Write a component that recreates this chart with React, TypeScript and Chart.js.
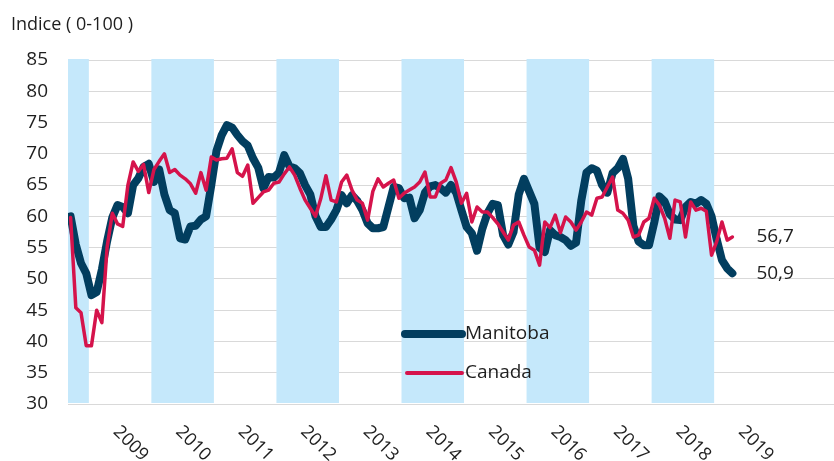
import { useEffect, useRef } from 'react';
import { Chart, registerables } from 'chart.js';

Chart.register(...registerables);

// Monthly index 0 = September 2008
const FIRST_YEAR = 2008;
const FIRST_MONTH = 9;

const manitoba = [
  60, 55.5, 52.5, 50.9, 47.4, 47.9, 51.5, 56, 59.8, 61.8, 61.5, 60.5,
  65, 66.1, 67.9, 68.4, 65.5, 67.5, 63.5, 61, 60.5, 56.5, 56.3, 58.4,
  58.5, 59.5, 60, 65, 70.5, 73, 74.6, 74.2, 73, 72, 71.3, 69.3,
  67.8, 64.5, 66.3, 66.2, 67, 69.8, 68, 67.7, 66.9, 65, 63.5, 60,
  58.3, 58.3, 59.5, 61, 63.4, 62.1, 63.4, 62.5, 61, 58.9, 58.1, 58.1,
  58.3, 61.5, 64.7, 64.5, 62.9, 63, 59.7, 61, 63.8, 64.8, 65, 64.5,
  63.8, 65, 63.8, 61, 58.3, 57.3, 54.5, 58, 60.5, 62, 61.8, 57,
  55.5, 57.5, 63.5, 66, 64, 62, 55, 54.3, 57.8, 57, 56.7, 56.2,
  55.3, 55.8, 62.5, 67, 67.7, 67.3, 65, 63.8, 66.9, 67.7, 69.2, 66,
  58.5, 56, 55.4, 55.4, 59, 63.2, 62.4, 60.3, 59.5, 59.4, 61.5, 62.3,
  62, 62.6, 62, 60, 56.3, 53, 51.7, 50.9,
];

const canada = [
  59.8, 45.4, 44.6, 39.3, 39.3, 45, 43, 55, 60.5, 58.8, 58.4, 65,
  68.7, 67.2, 68.3, 63.8, 67.5, 68.8, 70, 67, 67.5, 66.6, 66, 65.2,
  63.7, 67, 64.2, 69.5, 69, 69.2, 69.3, 70.8, 67, 66.4, 68.2, 62.1,
  63, 63.9, 64.2, 65.3, 65.5, 66.8, 67.9, 66.6, 64.5, 62.6, 61.3, 60,
  62.8, 66.5, 62.6, 62.3, 65.5, 66.6, 64.2, 62.6, 62.1, 59.4, 64, 66,
  64.7, 65.3, 65.8, 62.9, 63.7, 64.2, 64.7, 65.5, 67.1, 63.1, 63.1, 65.3,
  65.8, 67.8, 65.5, 62.1, 63.7, 59.1, 61.5, 60.7, 60.7, 59.8, 58.8, 57.5,
  56.2, 58.6, 59.1, 57, 55.1, 54.6, 52.2, 59.1, 58.2, 60.2, 57.4, 59.9,
  59.1, 57.8, 59.1, 60.7, 60.2, 62.9, 63.1, 64.7, 66.3, 61, 60.5, 59.4,
  56.7, 57, 59.1, 59.7, 62.9, 61.8, 59.7, 56.5, 62.6, 62.3, 56.7, 62.3,
  61, 61.3, 60.8, 53.8, 56, 59.1, 56.2, 56.7,
];

const yearLabels = ['2009', '2010', '2011', '2012', '2013', '2014', '2015', '2016', '2017', '2018', '2019'];
const shadedYears = [2008, 2010, 2012, 2014, 2016, 2018];
const seriesNames = ['Manitoba', 'Canada'];
const yMin = 30;
const yMax = 85;
const yStep = 5;
const axisTitle = 'Indice ( 0-100 )';
const X_MAX_MONTHS = 147; // axis spans Sep 2008 .. Nov 2020

const NAVY = '#023e5f';
const RED = '#d5134b';
const BAND = '#c5e8fb';
const TEXT = '#1e1e1e';
const FONT = '"Open Sans", "Noto Sans", sans-serif';

const yearStartIndex = (yr: number) => (yr - FIRST_YEAR) * 12 - (FIRST_MONTH - 1) - 0.5;
const fmt = (v: number) => v.toFixed(1).replace('.', ',');

const bandsPlugin = {
  id: 'bands',
  beforeDatasetsDraw(chart: any) {
    const { ctx, chartArea, scales } = chart;
    const x = scales.x;
    ctx.save();
    ctx.fillStyle = BAND;
    for (const yr of shadedYears) {
      const s = Math.max(yearStartIndex(yr), x.min);
      const e = Math.min(yearStartIndex(yr + 1), x.max);
      const x0 = x.getPixelForValue(s);
      const x1 = x.getPixelForValue(e);
      ctx.fillRect(x0, chartArea.top - 1, x1 - x0, chartArea.bottom - chartArea.top);
    }
    ctx.restore();
  },
};

const decorPlugin = {
  id: 'decor',
  afterDraw(chart: any) {
    const { ctx, chartArea, scales } = chart;
    const x = scales.x;
    const y = scales.y;
    ctx.save();
    ctx.fillStyle = TEXT;
    // axis title
    ctx.font = `18px ${FONT}`;
    ctx.textAlign = 'left';
    ctx.textBaseline = 'middle';
    ctx.fillText(axisTitle, 11, 25);

    // rotated year labels
    ctx.font = `18px ${FONT}`;
    for (const lbl of yearLabels) {
      const yr = parseInt(lbl, 10);
      const c = x.getPixelForValue(yearStartIndex(yr) + 6);
      ctx.save();
      ctx.translate(c - 4, chartArea.bottom + 25);
      ctx.rotate(Math.PI / 4);
      ctx.textAlign = 'left';
      ctx.textBaseline = 'middle';
      ctx.fillText(lbl, 0, 0);
      ctx.restore();
    }

    // end value labels
    ctx.font = `19px ${FONT}`;
    ctx.textAlign = 'left';
    ctx.textBaseline = 'middle';
    const lastM = manitoba.length - 1;
    const lastC = canada.length - 1;
    ctx.fillText(fmt(canada[lastC]), x.getPixelForValue(lastC) + 24, y.getPixelForValue(canada[lastC]));
    ctx.fillText(fmt(manitoba[lastM]), x.getPixelForValue(lastM) + 24, y.getPixelForValue(manitoba[lastM]));

    // legend
    const lx0 = chartArea.left + 337;
    const lx1 = chartArea.left + 394;
    const ly = [334, 373];
    const widths = [8, 4];
    const colors = [NAVY, RED];
    ctx.lineCap = 'round';
    seriesNames.forEach((name, i) => {
      ctx.strokeStyle = colors[i];
      ctx.lineWidth = widths[i];
      ctx.beginPath();
      ctx.moveTo(lx0 + (i === 1 ? 2 : 0), ly[i]);
      ctx.lineTo(lx1, ly[i]);
      ctx.stroke();
      ctx.fillStyle = TEXT;
      ctx.font = `19px ${FONT}`;
      ctx.textAlign = 'left';
      ctx.textBaseline = 'middle';
      ctx.fillText(name, lx1 + 3, ly[i]);
    });
    ctx.restore();
  },
};

export default function App() {
  const ref = useRef<HTMLCanvasElement>(null);

  useEffect(() => {
    if (!ref.current) return;
    const chart = new Chart(ref.current, {
      type: 'line',
      data: {
        datasets: [
          {
            label: seriesNames[0],
            data: manitoba.map((v, i) => ({ x: i, y: v })),
            borderColor: NAVY,
            borderWidth: 8,
            pointRadius: 0,
            tension: 0,
            borderJoinStyle: 'round',
            borderCapStyle: 'round',
            order: 2,
          },
          {
            label: seriesNames[1],
            data: canada.map((v, i) => ({ x: i, y: v })),
            borderColor: RED,
            borderWidth: 3.5,
            pointRadius: 0,
            tension: 0,
            borderJoinStyle: 'round',
            borderCapStyle: 'round',
            order: 1,
          },
        ],
      },
      options: {
        responsive: false,
        animation: false,
        devicePixelRatio: 1,
        layout: { padding: { left: 0, right: 0, top: 60, bottom: 57 } },
        plugins: { legend: { display: false }, tooltip: { enabled: false }, title: { display: false } },
        scales: {
          x: {
            type: 'linear',
            min: -0.5,
            max: X_MAX_MONTHS - 0.5,
            grid: { display: false, drawTicks: false },
            border: { display: false },
            ticks: { display: false },
          },
          y: {
            min: yMin,
            max: yMax,
            afterFit: (s: any) => { s.width = 68; },
            ticks: {
              stepSize: yStep,
              padding: 20,
              color: TEXT,
              font: { family: FONT, size: 19 },
            },
            grid: { color: '#d9d9d9', lineWidth: 1, drawTicks: false },
            border: { display: false },
          },
        },
      },
      plugins: [bandsPlugin, decorPlugin],
    });
    return () => chart.destroy();
  }, []);

  return (
    <div style={{ position: 'absolute', left: 0, top: 0, width: 834, height: 461, background: '#fff' }}>
      <canvas ref={ref} width={834} height={461} style={{ display: 'block' }} />
    </div>
  );
}
